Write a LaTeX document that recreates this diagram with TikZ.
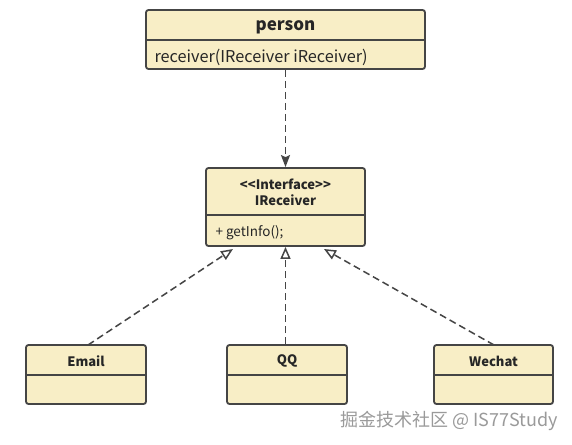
\documentclass[tikz,border=0pt]{standalone}
\usepackage{fontspec}
\setmainfont{Noto Sans CJK SC}
\newfontfamily\cjkfont{Noto Sans CJK SC}
\usetikzlibrary{arrows.meta}
\definecolor{classfill}{HTML}{F8EEC6}
\definecolor{classline}{HTML}{454545}
\definecolor{marktext}{HTML}{9A9A9A}

\begin{document}
\begin{tikzpicture}[x=1pt,y=-1pt,
    classbox/.style={draw=classline,fill=classfill,line width=1.8pt,rounded corners=2.5pt,inner sep=0pt},
    divider/.style={draw=classline,line width=1.6pt},
    title/.style={font=\fontsize{17}{19}\selectfont\bfseries,text=black!85},
    smalltitle/.style={font=\fontsize{13}{16}\selectfont\bfseries,text=black!85,align=center},
    member/.style={font=\fontsize{16.3}{18}\selectfont,text=black!85,anchor=west},
    smallmember/.style={font=\fontsize{13.5}{16}\selectfont,text=black!85,anchor=west},
    depends/.style={draw=classline,line width=1.5pt,dash pattern=on 7pt off 4pt,-{Stealth[length=12pt,width=9pt,inset=2pt]}},
    realizes/.style={draw=classline,line width=1.5pt,dash pattern=on 7pt off 4pt,-{Triangle[open,length=12pt,width=10pt,fill=white]}}]
    \useasboundingbox[fill=white] (0,0) rectangle (572,444);

    %Classes
    \node[classbox,minimum width=279pt,minimum height=59pt] (person) at (285.5,39.5) {};
    \draw[divider] (146,40) -- (425,40);
    \node[title] (personname) at (285.5,27.5) {person};
    \node[member] (receiver) at (151,57) {receiver(IReceiver iReceiver)};

    \node[classbox,minimum width=159pt,minimum height=78pt] (ireceiver) at (285.5,207) {};
    \draw[divider] (206,215) -- (365,215);
    \node[smalltitle] (ireceivername) at (285.5,192) {<\kern0pt<Interface>\kern0pt>\\IReceiver};
    \node[smallmember] (getinfo) at (212,232.5) {+ getInfo();};

    \node[classbox,minimum width=120pt,minimum height=59pt] (email) at (86,374.5) {};
    \draw[divider] (26,375) -- (146,375);
    \node[smalltitle] (emailname) at (86,361) {Email};

    \node[classbox,minimum width=120pt,minimum height=59pt] (qq) at (287,374.5) {};
    \draw[divider] (227,375) -- (347,375);
    \node[smalltitle] (qqname) at (287,361) {QQ};

    \node[classbox,minimum width=119pt,minimum height=59pt] (wechat) at (493.5,374.5) {};
    \draw[divider] (434,375) -- (553,375);
    \node[smalltitle] (wechatname) at (493.5,361) {Wechat};

    %Relations
    \coordinate (emailtip) at (233,249);
    \coordinate (wechattip) at (324,249);
    \draw[depends] (person.south) -- (ireceiver.north);
    \draw[realizes] (88,345) -- (emailtip);
    \draw[realizes] (qq.north -| ireceiver.south) -- (ireceiver.south);
    \draw[realizes] (494,345) -- (wechattip);

    \node[font=\fontsize{18}{20}\selectfont\cjkfont,text=marktext] (mark) at (449,421) {掘金技术社区 @ IS77Study};
\end{tikzpicture}
\end{document}
